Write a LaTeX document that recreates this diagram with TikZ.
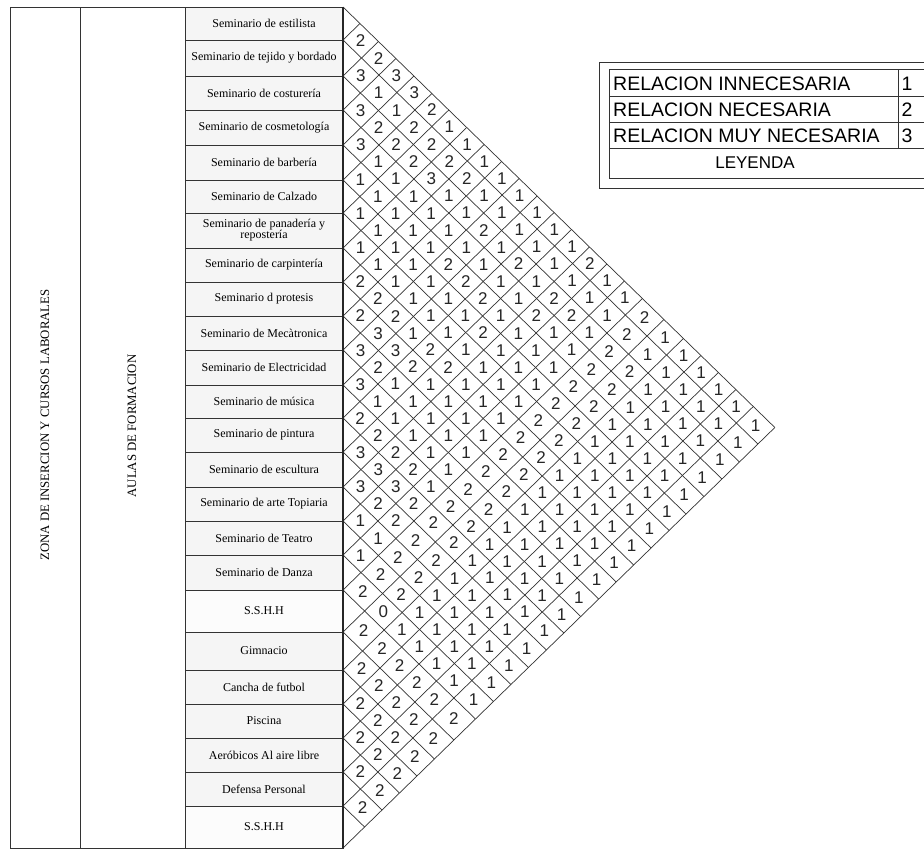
\documentclass[tikz,border=0pt]{standalone}
\usepackage{fontspec}
\setmainfont{Liberation Serif}
\newfontfamily\arialf{Liberation Sans}
\begin{document}
\begin{tikzpicture}[x=1pt,y=-1pt]
\tikzset{
 gridline/.style={draw=black!80, line width=0.7pt},
 tabline/.style={draw=black!80, line width=0.8pt},
 celltext/.style={font=\arialf\fontsize{17}{17}\selectfont, inner sep=0pt, text=black!85},
 rowlabel/.style={font=\fontsize{12}{11}\selectfont, align=center, inner sep=0pt},
 sidelabel/.style={font=\fontsize{12.8}{14}\selectfont, rotate=90, inner sep=0pt},
 legtext/.style={font=\arialf\fontsize{19.5}{20}\selectfont, anchor=west, inner sep=0pt},
}
\useasboundingbox (0,0) rectangle (924,849);
\clip (0,0) rectangle (924,849);
\fill[white] (0,0) rectangle (924,849);
\def\B{{7,40,76,110,145,180,213,248,282,316,350,385,418,452,487,521,555,590,632,670,704,738,772,806,848}}
\def\K{1.027}
\def\XL{343}
% label column backgrounds
\foreach \ii in {1,...,24} {
  \pgfmathtruncatemacro\ia{\ii-1}
  \pgfmathsetmacro\ya{\B[\ia]}
  \pgfmathsetmacro\yb{\B[\ii]}
  \pgfmathtruncatemacro\fl{(\ii==18 || \ii==24) ? 1 : 4}
  \fill[black!\fl] (185,\ya) rectangle (343,\yb);
}
% label column texts and lines
\foreach \ii/\txt in {1/Seminario de estilista,2/Seminario de tejido y bordado,3/Seminario de costurería,4/Seminario de cosmetología,5/Seminario de barbería,6/Seminario de Calzado,7/{Seminario de panadería y\\repostería},8/Seminario de carpintería,9/Seminario d protesis,10/Seminario de Mecàtronica,11/Seminario de Electricidad,12/Seminario de música,13/Seminario de pintura,14/Seminario de escultura,15/Seminario de arte Topiaria,16/Seminario de Teatro,17/Seminario de Danza,18/S.S.H.H,19/Gimnacio,20/Cancha de futbol,21/Piscina,22/Aeróbicos Al aire libre,23/Defensa Personal,24/S.S.H.H} {
  \pgfmathtruncatemacro\ia{\ii-1}
  \pgfmathsetmacro\ya{\B[\ia]}
  \pgfmathsetmacro\yb{\B[\ii]}
  \pgfmathsetmacro\ym{(\ya+\yb)/2}
  \draw[tabline] (185,\yb) -- (343,\yb);
  \node[rowlabel] (r\ii) at (264,\ym) {\txt};
}
\draw[tabline] (10,7) rectangle (343,848);
\draw[tabline] (80,7) -- (80,848);
\draw[tabline] (185,7) -- (185,848);
\node[sidelabel] (zona) at (45,425) {ZONA DE INSERCION Y CURSOS LABORALES};
\node[sidelabel] (aulas) at (132,426) {AULAS DE FORMACION};
% matrix grid
\foreach \k in {0,...,23} {
  \pgfmathsetmacro\yk{\B[\k]}
  \pgfmathsetmacro\xe{\XL+\K*(848-\yk)/2}
  \pgfmathsetmacro\ye{(\yk+848)/2}
  \draw[gridline] (\XL,\yk) -- (\xe,\ye);
}
\foreach \k in {1,...,24} {
  \pgfmathsetmacro\yk{\B[\k]}
  \pgfmathsetmacro\xe{\XL+\K*(\yk-7)/2}
  \pgfmathsetmacro\ye{(\yk+7)/2}
  \draw[gridline] (\XL,\yk) -- (\xe,\ye);
}
\draw[black!85, line width=1.6pt] (343,7) -- (343,848);
% cell values by level
\foreach \lev/\vals in {3/{2},4/{2},5/{3,3},6/{1,3},7/{3,1,2},8/{2,2,1},9/{3,2,2,1},10/{1,2,2,1},11/{1,1,3,2,1},12/{1,1,1,1,1},13/{1,1,1,1,1,1},14/{1,1,1,2,1,1},15/{1,1,1,1,1,1,1},16/{1,1,2,1,2,1,2},17/{2,1,1,2,1,1,1,1},18/{2,1,1,2,1,2,1,1},19/{2,2,1,1,1,2,2,1,2},20/{3,1,1,2,1,1,1,2,1},21/{3,3,2,1,1,1,1,2,1,1},22/{2,2,2,1,1,1,2,2,1,1},23/{3,1,1,1,1,1,2,2,1,1,1},24/{1,1,1,1,1,2,2,1,1,1,1},25/{2,1,1,1,1,2,2,1,1,1,1,1},26/{2,1,1,1,2,2,1,1,1,1,1},27/{3,2,1,1,2,2,1,1,1,1,1},28/{3,2,1,2,2,1,1,1,1,1},29/{3,3,1,2,2,1,1,1,1,1},30/{2,2,2,2,1,1,1,1,1},31/{1,2,2,2,1,1,1,1,1},32/{1,2,2,1,1,1,1,1},33/{1,2,2,1,1,1,1,1},34/{2,2,1,1,1,1,1},35/{2,2,1,1,1,1,1},36/{0,1,1,1,1,1},37/{2,1,1,1,1,1},38/{2,1,1,1,1},39/{2,2,1,1,1},40/{2,2,1,1},41/{2,2,2,1},42/{2,2,2},43/{2,2,2},44/{2,2},45/{2,2},46/{2},47/{2}} {
  \pgfmathtruncatemacro\imax{floor((\lev-1)/2)}
  \foreach \val [count=\num] in \vals {
    \pgfmathtruncatemacro\ii{\imax-\num+1}
    \pgfmathtruncatemacro\jj{\lev-\ii}
    \pgfmathtruncatemacro\ia{\ii-1}
    \pgfmathtruncatemacro\ja{\jj-1}
    \pgfmathsetmacro\bia{\B[\ia]}
    \pgfmathsetmacro\bib{\B[\ii]}
    \pgfmathsetmacro\bja{\B[\ja]}
    \pgfmathsetmacro\bjb{\B[\jj]}
    \pgfmathsetmacro\cx{\XL+\K*(\bja+\bjb-\bia-\bib)/4}
    \pgfmathsetmacro\cy{(\bia+\bib+\bja+\bjb)/4}
    \node[celltext] (c\ii-\jj) at (\cx,\cy) {\val};
  }
}
% legend
\draw[tabline] (599,62) rectangle (940,188);
\draw[tabline] (609,69) rectangle (940,178);
\draw[tabline] (609,96) -- (940,96);
\draw[tabline] (609,122) -- (940,122);
\draw[tabline] (609,148) -- (940,148);
\draw[tabline] (898,69) -- (898,148);
\node[legtext] (l1) at (613,84) {RELACION INNECESARIA};
\node[legtext] (l2) at (613,110) {RELACION NECESARIA};
\node[legtext] (l3) at (613,136) {RELACION MUY NECESARIA};
\node[legtext, anchor=center] (n1) at (907,84) {1};
\node[legtext, anchor=center] (n2) at (907,110) {2};
\node[legtext, anchor=center] (n3) at (907,136) {3};
\node[legtext, anchor=center, font=\arialf\fontsize{17}{17}\selectfont] (ley) at (755,163) {LEYENDA};
\end{tikzpicture}
\end{document}
